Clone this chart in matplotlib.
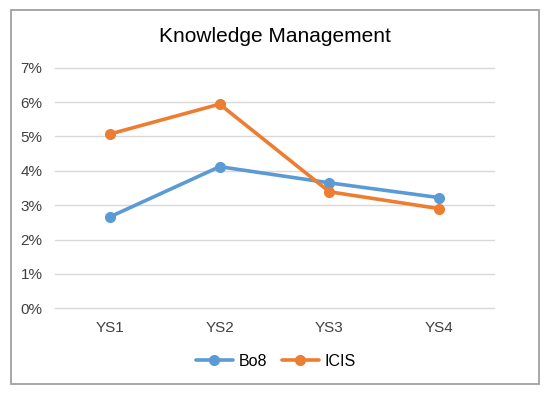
import matplotlib.pyplot as plt
from matplotlib.patches import Rectangle
from matplotlib.ticker import FuncFormatter

plt.rcParams['font.family'] = ['Liberation Sans', 'DejaVu Sans']

# data
categories = ["YS1", "YS2", "YS3", "YS4"]
bo8 = [2.66, 4.12, 3.65, 3.22]
icis = [5.07, 5.94, 3.39, 2.90]

blue = '#5b9bd5'
orange = '#ed7d31'

fig = plt.figure(figsize=(5.5, 3.97), dpi=100)
fig.patch.set_facecolor('white')

# outer chart border
fig.patches.append(Rectangle((11/550, 1 - 384/397), (539-11)/550, (384-10)/397,
                             transform=fig.transFigure, fill=False,
                             edgecolor='#a0a0a0', linewidth=1.3))

# plot area in pixels: left 55, right 494, top 67.7, bottom 308.3
ax = fig.add_axes([55/550, 1 - 308.3/397, (494-55)/550, (308.3-67.7)/397])

x = range(len(categories))
ax.plot(x, bo8, color=blue, lw=2.6, marker='o', ms=7, label='Bo8', solid_capstyle='round')
ax.plot(x, icis, color=orange, lw=2.6, marker='o', ms=7, label='ICIS', solid_capstyle='round')

ax.set_xlim(-0.5, 3.5)
ax.set_ylim(0, 7)
ax.set_yticks(range(0, 8))
ax.yaxis.set_major_formatter(FuncFormatter(lambda v, p: f"{int(v)}%"))
ax.set_xticks(list(x))
ax.set_xticklabels(categories)
ax.grid(axis='y', color='#d9d9d9', lw=1)
for gl in ax.get_ygridlines():
    gl.set_clip_on(False)
ax.set_axisbelow(True)
for s in ax.spines.values():
    s.set_visible(False)
ax.tick_params(length=0, labelsize=11, colors='#404040')
ax.tick_params(axis='y', pad=9)
ax.tick_params(axis='x', pad=9)

fig.text(275/550, 1 - 37/397, "Knowledge Management", ha='center', va='center',
         fontsize=15, color='black')

fig.legend(loc='center', bbox_to_anchor=(276/550, 1 - 361/397), ncol=2, frameon=False,
           fontsize=11.5, handlelength=2.3, columnspacing=0.9, handletextpad=0.4)

fig.savefig('out.png', dpi=100)
